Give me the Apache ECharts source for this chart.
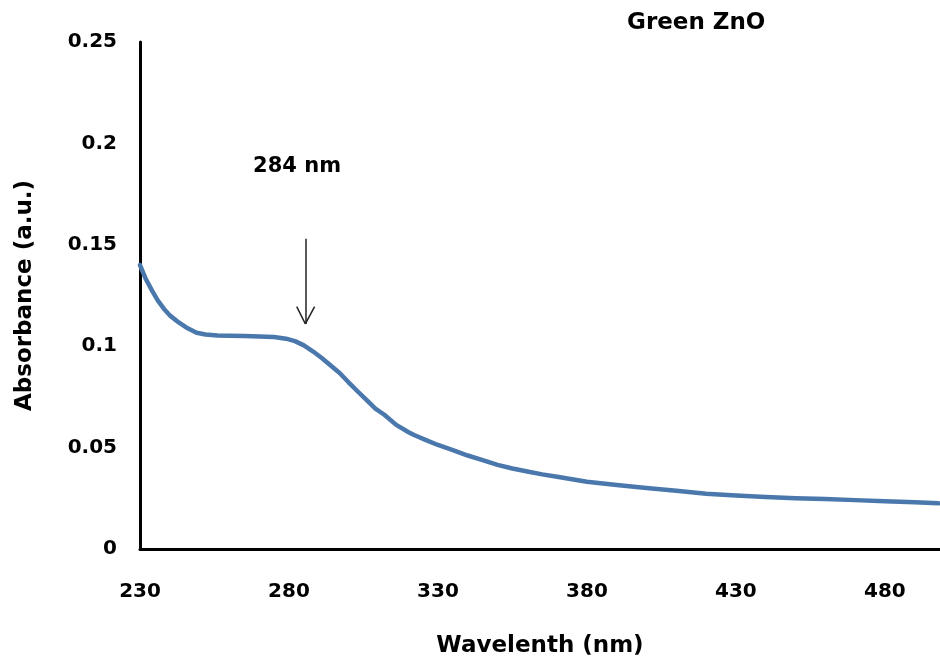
<!DOCTYPE html>
<html>
<head>
<meta charset="utf-8">
<script src="https://cdn.jsdelivr.net/npm/echarts@6/dist/echarts.min.js"></script>
<style>
html,body{margin:0;padding:0;background:#fff;}
#chart{width:940px;height:666px;}
</style>
</head>
<body>
<div id="chart"></div>
<script>
var wavelengths = [230,232,234,236,238,240,243,246,249,252,256,260,265,270,275,279,282,285,288,291,294,297,300,303,306,309,312,316,320,322,326,330,335,340,345,350,355,360,365,370,375,380,390,400,410,420,430,440,450,460,470,480,490,498];
var absorbance = [0.140,0.133,0.1275,0.1225,0.1185,0.1152,0.1117,0.1088,0.1066,0.1058,0.1053,0.1052,0.1050,0.1048,0.1045,0.1037,0.1025,0.1004,0.0975,0.0942,0.0905,0.0868,0.0822,0.0778,0.0735,0.0692,0.0662,0.0612,0.0577,0.0562,0.0537,0.0513,0.0487,0.0461,0.0438,0.0415,0.0397,0.0382,0.0368,0.0356,0.0344,0.0332,0.0316,0.0301,0.0287,0.0273,0.0264,0.0256,0.0250,0.0246,0.0241,0.0236,0.0230,0.0225];
var xTicks = [230,280,330,380,430,480];
var yTicks = [0,0.05,0.1,0.15,0.2,0.25];
var titleText = 'Green ZnO';
var xName = 'Wavelenth (nm)';
var yName = 'Absorbance (a.u.)';
var peakLabel = '284 nm';
var peakLabelPos = [282.7, 0.1884];
var arrowShaft = [[285.5, 0.153], [285.5, 0.111]];
var arrowWingL = [[282.6, 0.1195], [285.5, 0.111]];
var arrowWingR = [[288.6, 0.1195], [285.5, 0.111]];

var FONT = '"DejaVu Sans", Verdana, sans-serif';
var chart = echarts.init(document.getElementById('chart'), null, {renderer:'canvas'});
var seriesData = wavelengths.map(function(w,i){ return [w, absorbance[i]]; });

chart.setOption({
  backgroundColor: '#ffffff',
  animation: false,
  grid: {left: 140, right: 0, top: 42, bottom: 117, containLabel: false},
  graphic: [{
    type: 'text', left: 627, top: 12,
    style: {text: titleText, font: 'bold 23px ' + FONT, fill: '#000'}
  }],
  xAxis: {
    type: 'value', min: 230, max: 498.5, interval: 50,
    name: xName, nameLocation: 'middle', nameGap: 86,
    nameTextStyle: {fontFamily: FONT, fontWeight: 'bold', fontSize: 23, color: '#000'},
    axisLine: {show: true, onZero: false, lineStyle: {color: '#000', width: 3}},
    axisTick: {show: false},
    splitLine: {show: false},
    axisLabel: {
      margin: 33, fontFamily: FONT, fontWeight: 'bold', fontSize: 20, color: '#000',
      showMaxLabel: false,
      formatter: function(v){ return xTicks.indexOf(v) >= 0 ? String(v) : ''; }
    }
  },
  yAxis: {
    type: 'value', min: 0, max: 0.25, interval: 0.05,
    name: yName, nameLocation: 'middle', nameGap: 103, nameRotate: 90,
    nameTextStyle: {fontFamily: FONT, fontWeight: 'bold', fontSize: 23, color: '#000'},
    axisLine: {show: true, lineStyle: {color: '#000', width: 3}},
    axisTick: {show: false},
    splitLine: {show: false},
    axisLabel: {
      margin: 23, fontFamily: FONT, fontWeight: 'bold', fontSize: 20, color: '#000',
      formatter: function(v){
        for (var i=0;i<yTicks.length;i++){ if (Math.abs(yTicks[i]-v)<1e-9) return String(yTicks[i]); }
        return '';
      }
    }
  },
  series: [{
    type: 'line',
    data: seriesData,
    showSymbol: false,
    smooth: false,
    lineStyle: {color: '#4a78ad', width: 4.5, cap: 'round', join: 'round'},
    itemStyle: {color: '#4a78ad'},
    markPoint: {
      silent: true,
      symbol: 'rect', symbolSize: [1,1],
      itemStyle: {color: 'rgba(0,0,0,0)'},
      label: {show: true, position: 'inside', formatter: peakLabel,
        fontFamily: FONT, fontWeight: 'bold', fontSize: 21, color: '#000'},
      data: [{coord: peakLabelPos, value: 0}]
    },
    markLine: {
      silent: true,
      symbol: ['none','none'],
      label: {show: false},
      lineStyle: {color: '#222', width: 1.5, type: 'solid'},
      emphasis: {disabled: true},
      data: [
        [{coord: arrowShaft[0]}, {coord: arrowShaft[1]}],
        [{coord: arrowWingL[0]}, {coord: arrowWingL[1]}],
        [{coord: arrowWingR[0]}, {coord: arrowWingR[1]}]
      ]
    }
  }]
});
</script>
</body>
</html>
